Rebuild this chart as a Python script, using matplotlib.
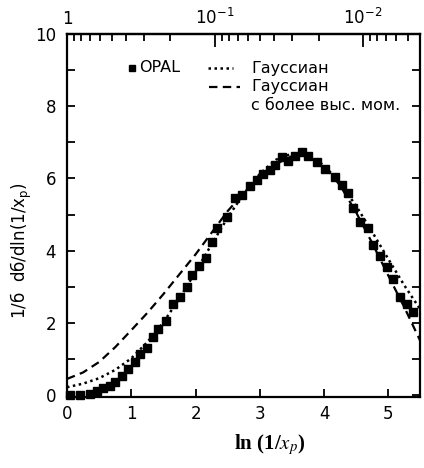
import numpy as np
import matplotlib
matplotlib.use("Agg")
import matplotlib.pyplot as plt
from matplotlib.lines import Line2D

# ---- data ----
opal_x = [0.05, 0.20, 0.36, 0.47, 0.56, 0.67, 0.75, 0.86, 0.95, 1.06, 1.14, 1.24,
          1.34, 1.42, 1.54, 1.65, 1.76, 1.87, 1.94, 2.05, 2.16, 2.26, 2.33, 2.49,
          2.61, 2.72, 2.85, 2.95, 3.05, 3.16, 3.23, 3.34, 3.44, 3.55, 3.65, 3.75,
          3.89, 4.01, 4.17, 4.28, 4.37, 4.45, 4.56, 4.68, 4.76, 4.87, 4.98, 5.07,
          5.18, 5.29, 5.38]
opal_y = [0.00, 0.01, 0.04, 0.12, 0.21, 0.26, 0.37, 0.54, 0.73, 0.92, 1.14, 1.31,
          1.61, 1.83, 2.06, 2.52, 2.72, 2.99, 3.32, 3.59, 3.79, 4.23, 4.62, 4.92,
          5.45, 5.53, 5.78, 5.95, 6.12, 6.23, 6.37, 6.59, 6.48, 6.61, 6.72, 6.63,
          6.47, 6.25, 6.03, 5.83, 5.61, 5.17, 4.79, 4.62, 4.15, 3.85, 3.55, 3.21,
          2.72, 2.52, 2.30]

gauss_x = [0.0, 0.25, 0.5, 0.75, 1.0, 1.25, 1.5, 1.75, 2.0, 2.25, 2.5, 2.75, 3.0,
           3.25, 3.5, 3.75, 4.0, 4.25, 4.5, 4.75, 5.0, 5.25, 5.5]
gauss_y = [0.22, 0.32, 0.47, 0.70, 1.02, 1.47, 2.02, 2.68, 3.42, 4.18, 4.92, 5.58,
           6.13, 6.52, 6.69, 6.64, 6.36, 5.87, 5.23, 4.51, 3.76, 3.03, 2.36]

hm_x = [0.0, 0.25, 0.5, 0.75, 1.0, 1.25, 1.5, 1.75, 2.0, 2.25, 2.5, 2.75, 3.0,
        3.25, 3.5, 3.75, 4.0, 4.25, 4.5, 4.75, 5.0, 5.25, 5.5]
hm_y = [0.45, 0.63, 0.92, 1.33, 1.80, 2.28, 2.80, 3.35, 3.90, 4.50, 5.10, 5.60,
        6.05, 6.40, 6.62, 6.66, 6.35, 5.80, 5.05, 4.20, 3.30, 2.42, 1.48]

x_ticks = [0, 1, 2, 3, 4, 5]
x_tick_labels = ["0", "1", "2", "3", "4", "5"]
y_ticks = [0, 2, 4, 6, 8, 10]
y_tick_labels = ["0", "2", "4", "6", "8", "10"]
y_minor = [1, 3, 5, 7, 9]
top_major_xp = [1.0, 0.1, 0.01]
top_tick_labels = ["1", r"$10^{-1}$", r"$10^{-2}$"]
top_minor_xp = [0.9, 0.8, 0.7, 0.6, 0.5, 0.4, 0.3, 0.2,
                0.09, 0.08, 0.07, 0.06, 0.05, 0.04, 0.03, 0.02,
                0.009, 0.008, 0.007, 0.006, 0.005]

legend_opal = "OPAL"
legend_gauss = "Гауссиан"
legend_hm1 = "Гауссиан"
legend_hm2 = "с более выс. мом."
ylabel = r"1/б  dб/dln(1/x$_\mathregular{p}$)"
xlabel = r"ln (1/$x_p$)"

DOT = (0, (1, 1.4))
DASH = (0, (3.8, 2.4))

# ---- figure ----
W, H = 424, 468
fig = plt.figure(figsize=(W / 100, H / 100), dpi=100)
L, R, T, B = 67, 420, 34, 397
ax = fig.add_axes([L / W, 1 - B / H, (R - L) / W, (B - T) / H])

ax.plot(gauss_x, gauss_y, color="black", lw=1.8, linestyle=DOT)
ax.plot(hm_x, hm_y, color="black", lw=1.6, linestyle=DASH)
ax.plot(opal_x, opal_y, "s", color="black", ms=5.2, clip_on=False, zorder=5)

xmax = 5.49
ax.set_xlim(0, xmax)
ax.set_ylim(-0.05, 10)
ax.set_autoscale_on(False)
ax.set_xticks(x_ticks)
ax.set_xticklabels(x_tick_labels)
ax.set_yticks(y_ticks)
ax.set_yticklabels(y_tick_labels)
ax.set_yticks(y_minor, minor=True)
ax.tick_params(axis="both", which="both", direction="in", left=True,
               right=True, top=False, bottom=True,
               length=6, width=1.3, labelsize=12, colors="black")
ax.tick_params(axis="y", pad=8)
ax.tick_params(axis="x", pad=6)
for s in ax.spines.values():
    s.set_linewidth(1.6)

# ---- legend (figure-level artists, positions in pixels) ----
def ff(px, py):
    return px / W, 1 - py / H

fs = 11.5
r1, r2, r3 = 68, 87, 106
mx, my = ff(132, r1)
fig.add_artist(Line2D([mx], [my], marker="s", color="black", ms=4.5,
                      linestyle="none", transform=fig.transFigure))
fig.text(*ff(139, r1), legend_opal, fontsize=fs, va="center", ha="left")
x0, y0 = ff(208, r1); x1, _ = ff(233, r1)
fig.add_artist(Line2D([x0, x1], [y0, y0], color="black", lw=1.8,
                      linestyle=DOT, transform=fig.transFigure))
fig.text(*ff(251, r1), legend_gauss, fontsize=fs, va="center", ha="left")
x0, y0 = ff(209, r2); x1, _ = ff(240, r2)
fig.add_artist(Line2D([x0, x1], [y0, y0], color="black", lw=1.6,
                      linestyle=DASH, transform=fig.transFigure))
fig.text(*ff(251, r2), legend_hm1, fontsize=fs, va="center", ha="left")
fig.text(*ff(251, r3), legend_hm2, fontsize=fs, va="center", ha="left")

# ---- axis titles ----
fig.text(21 / W, 1 - 251 / H, ylabel, rotation=90, ha="center", va="center",
         fontsize=12)
fig.text(270 / W, 1 - 445 / H, xlabel, ha="center", va="center", fontsize=15,
         family="Liberation Serif", fontweight="bold", math_fontfamily="stix")

# ---- top x_p scale ----
sec = ax.secondary_xaxis("top")
sec.set_xticks([-np.log(v) for v in top_major_xp])
sec.set_xticklabels(top_tick_labels)
sec.set_xticks([-np.log(v) for v in top_minor_xp], minor=True)
sec.tick_params(axis="x", which="major", direction="in", length=9,
                width=1.3, labelsize=12, pad=4)
sec.tick_params(axis="x", which="minor", direction="in", length=5, width=1.3)
sec.spines["top"].set_linewidth(1.6)

fig.savefig("out.png", dpi=100)
